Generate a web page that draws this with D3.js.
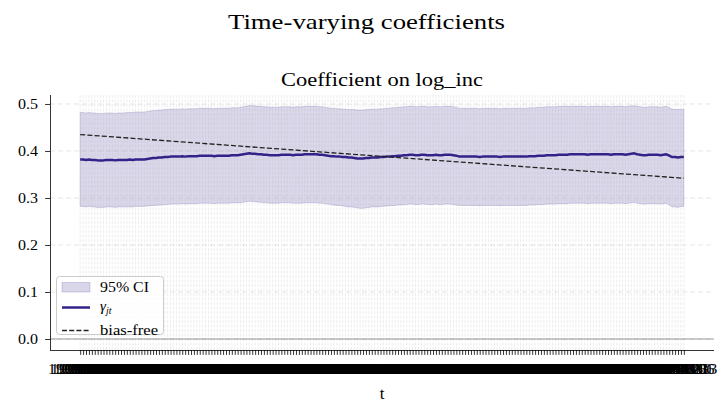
<!DOCTYPE html>
<html><head><meta charset="utf-8">
<script src="https://cdn.jsdelivr.net/npm/d3@7"></script>
<style>body{margin:0;background:#fff}text{font-family:"Liberation Serif","DejaVu Serif",serif}</style>
</head><body><svg id="c" width="728" height="414"></svg>
<script>
// ---- data ----
const nPeriods = 208;
const startDate = new Date(1999, 0, 25);
const categories = [];
for (let i = 0; i < nPeriods; i++) categories.push(d3.timeFormat("%Y%m%d")(d3.timeDay.offset(startDate, 7 * i)));

const gamma = [
0.382,0.382,0.381,0.382,0.381,0.381,0.380,0.380,0.380,0.381,
0.381,0.381,0.380,0.381,0.381,0.381,0.381,0.382,0.381,0.382,
0.382,0.382,0.382,0.383,0.384,0.385,0.385,0.386,0.386,0.387,
0.387,0.388,0.388,0.388,0.388,0.389,0.388,0.389,0.389,0.389,
0.389,0.390,0.390,0.390,0.390,0.390,0.389,0.390,0.390,0.390,
0.390,0.390,0.391,0.391,0.391,0.392,0.393,0.394,0.395,0.394,
0.394,0.393,0.393,0.392,0.392,0.391,0.391,0.391,0.391,0.392,
0.392,0.392,0.392,0.391,0.392,0.392,0.392,0.393,0.393,0.393,
0.393,0.393,0.392,0.392,0.391,0.390,0.389,0.389,0.388,0.388,
0.387,0.387,0.386,0.386,0.385,0.384,0.384,0.384,0.385,0.385,
0.386,0.386,0.386,0.387,0.387,0.388,0.388,0.389,0.389,0.390,
0.390,0.391,0.391,0.392,0.392,0.391,0.391,0.392,0.392,0.391,
0.391,0.391,0.392,0.391,0.391,0.392,0.392,0.392,0.391,0.390,
0.388,0.388,0.388,0.388,0.388,0.388,0.388,0.387,0.388,0.388,
0.388,0.388,0.388,0.388,0.387,0.388,0.388,0.388,0.388,0.388,
0.388,0.388,0.388,0.388,0.389,0.389,0.389,0.390,0.390,0.390,
0.391,0.391,0.391,0.391,0.392,0.392,0.392,0.392,0.393,0.393,
0.393,0.393,0.393,0.393,0.392,0.393,0.393,0.393,0.393,0.393,
0.393,0.393,0.392,0.393,0.393,0.393,0.393,0.392,0.393,0.394,
0.395,0.393,0.392,0.391,0.391,0.392,0.392,0.392,0.392,0.391,
0.392,0.393,0.390,0.387,0.387,0.386,0.387,0.387];

const ciUpper = [
0.482,0.482,0.481,0.482,0.481,0.481,0.480,0.480,0.480,0.481,
0.481,0.481,0.480,0.481,0.481,0.481,0.482,0.482,0.482,0.483,
0.483,0.483,0.483,0.484,0.485,0.486,0.486,0.487,0.487,0.488,
0.488,0.489,0.489,0.489,0.489,0.490,0.489,0.490,0.490,0.490,
0.490,0.491,0.491,0.491,0.491,0.491,0.490,0.491,0.491,0.491,
0.491,0.491,0.492,0.492,0.492,0.493,0.494,0.495,0.497,0.496,
0.496,0.495,0.495,0.494,0.494,0.493,0.493,0.493,0.493,0.494,
0.494,0.494,0.494,0.493,0.494,0.494,0.494,0.495,0.495,0.495,
0.495,0.495,0.494,0.494,0.493,0.492,0.491,0.491,0.490,0.490,
0.489,0.489,0.488,0.488,0.488,0.487,0.487,0.487,0.488,0.488,
0.489,0.489,0.489,0.490,0.490,0.491,0.491,0.492,0.492,0.493,
0.493,0.494,0.494,0.495,0.495,0.494,0.494,0.495,0.495,0.494,
0.494,0.494,0.495,0.494,0.494,0.495,0.495,0.495,0.494,0.493,
0.491,0.491,0.491,0.491,0.491,0.491,0.491,0.490,0.491,0.491,
0.491,0.491,0.491,0.491,0.490,0.491,0.491,0.491,0.491,0.491,
0.491,0.491,0.491,0.491,0.492,0.492,0.492,0.493,0.493,0.493,
0.494,0.494,0.494,0.494,0.495,0.495,0.495,0.495,0.495,0.495,
0.495,0.495,0.495,0.495,0.494,0.495,0.495,0.495,0.495,0.495,
0.495,0.495,0.494,0.495,0.495,0.495,0.495,0.494,0.495,0.496,
0.496,0.495,0.494,0.493,0.493,0.494,0.494,0.494,0.494,0.493,
0.494,0.495,0.492,0.489,0.489,0.488,0.489,0.489];

const ciLower = [
0.282,0.282,0.281,0.282,0.281,0.281,0.280,0.280,0.280,0.281,
0.281,0.281,0.280,0.281,0.281,0.281,0.281,0.281,0.281,0.282,
0.282,0.282,0.282,0.283,0.283,0.284,0.284,0.285,0.285,0.286,
0.286,0.287,0.287,0.287,0.287,0.288,0.287,0.288,0.288,0.288,
0.288,0.289,0.289,0.289,0.289,0.289,0.288,0.289,0.289,0.289,
0.289,0.289,0.290,0.290,0.290,0.290,0.291,0.292,0.293,0.292,
0.292,0.291,0.291,0.290,0.290,0.289,0.289,0.289,0.289,0.290,
0.290,0.290,0.290,0.289,0.289,0.289,0.289,0.290,0.290,0.290,
0.290,0.290,0.289,0.289,0.288,0.287,0.286,0.285,0.284,0.284,
0.283,0.282,0.281,0.281,0.280,0.279,0.278,0.278,0.279,0.280,
0.281,0.281,0.281,0.282,0.282,0.283,0.283,0.284,0.284,0.285,
0.285,0.286,0.286,0.287,0.287,0.286,0.286,0.287,0.287,0.286,
0.286,0.286,0.287,0.286,0.286,0.287,0.287,0.287,0.286,0.285,
0.284,0.284,0.284,0.284,0.284,0.284,0.284,0.283,0.284,0.284,
0.284,0.284,0.284,0.284,0.283,0.284,0.284,0.284,0.284,0.284,
0.284,0.284,0.284,0.284,0.285,0.285,0.285,0.286,0.286,0.286,
0.287,0.287,0.287,0.287,0.288,0.288,0.288,0.288,0.289,0.289,
0.289,0.289,0.289,0.289,0.288,0.289,0.289,0.289,0.289,0.289,
0.289,0.289,0.288,0.289,0.289,0.289,0.289,0.288,0.289,0.290,
0.291,0.289,0.288,0.287,0.287,0.288,0.288,0.288,0.288,0.287,
0.288,0.289,0.285,0.281,0.281,0.280,0.282,0.282];

// bias-free reference line: value at first and last period
const biasFreeT = [0, nPeriods - 1];
const biasFree = [0.435, 0.342];

const yTicks = [0.0, 0.1, 0.2, 0.3, 0.4, 0.5];

// ---- layout ----
const svg = d3.select("#c");
const L = 50, R = 714, T = 95, B = 350;
const ink = "#332288";
const fit = (sel, w) => sel.attr("textLength", w).attr("lengthAdjust", "spacingAndGlyphs");

const x = d3.scalePoint().domain(categories).range([L, R]).padding(0.05 * (nPeriods - 1));
const y = d3.scaleLinear().domain([-0.0234, 0.5191]).range([B, T]);

// titles
fit(svg.append("text").attr("x", 366.5).attr("y", 28.5).attr("text-anchor", "middle")
  .attr("font-size", 22).text("Time-varying coefficients"), 277);
fit(svg.append("text").attr("x", 382).attr("y", 86).attr("text-anchor", "middle")
  .attr("font-size", 19).text("Coefficient on log_inc"), 202);

// CI band
const area = d3.area().x((d, i) => x(categories[i])).y0((d, i) => y(ciLower[i])).y1((d, i) => y(ciUpper[i]));
svg.append("path").datum(gamma).attr("d", area)
  .attr("fill", ink).attr("fill-opacity", 0.18)
  .attr("stroke", ink).attr("stroke-opacity", 0.18).attr("stroke-width", 1);

// grid
const gGrid = svg.append("g");
gGrid.selectAll(".vg").data(categories).join("line")
  .attr("x1", d => x(d)).attr("x2", d => x(d)).attr("y1", T).attr("y2", B)
  .attr("stroke", "#b0b0b0").attr("stroke-opacity", 0.3).attr("stroke-width", 0.8)
  .attr("stroke-dasharray", "3,1.5");
gGrid.selectAll(".hg").data(yTicks).join("line")
  .attr("x1", L).attr("x2", R).attr("y1", d => y(d)).attr("y2", d => y(d))
  .attr("stroke", "#b0b0b0").attr("stroke-opacity", 0.4).attr("stroke-width", 0.8)
  .attr("stroke-dasharray", "5,3");

// zero line
svg.append("line").attr("x1", L).attr("x2", R).attr("y1", y(0)).attr("y2", y(0))
  .attr("stroke", "#808080").attr("stroke-width", 0.8);

// gamma line
const line = d3.line().x((d, i) => x(categories[i])).y(d => y(d));
svg.append("path").datum(gamma).attr("d", line)
  .attr("fill", "none").attr("stroke", ink).attr("stroke-width", 2.5).attr("stroke-linejoin", "round");

// bias-free
svg.append("path").datum(biasFree)
  .attr("d", d3.line().x((d, i) => x(categories[biasFreeT[i]])).y(d => y(d)))
  .attr("fill", "none").attr("stroke", "#222").attr("stroke-width", 1.3).attr("stroke-dasharray", "5,2.2");

// axes
const xAxis = d3.axisBottom(x).tickSize(4.9).tickPadding(7);
const gx = svg.append("g").attr("transform", `translate(0,${B})`).call(xAxis);
gx.attr("font-family", null);
gx.select(".domain").attr("d", `M${L},0.5H${R}`).attr("stroke", "#000").attr("stroke-width", 0.8);
gx.selectAll(".tick line").attr("stroke", "#000").attr("stroke-width", 0.8);
fit(gx.selectAll(".tick text").attr("font-size", 14.5).attr("fill", "#000")
  .attr("y", 23.5).attr("dy", null), 66);

const yAxis = d3.axisLeft(y).tickValues(yTicks).tickFormat(d3.format(".1f")).tickSize(4.9).tickPadding(7);
const gy = svg.append("g").attr("transform", `translate(${L},0)`).call(yAxis);
gy.attr("font-family", null);
gy.select(".domain").attr("d", `M0.5,${T}V${B}`).attr("stroke", "#000").attr("stroke-width", 0.8);
gy.selectAll(".tick line").attr("stroke", "#000").attr("stroke-width", 0.8);
fit(gy.selectAll(".tick text").attr("font-size", 15).attr("fill", "#000"), 20);

svg.append("text").attr("x", 382).attr("y", 398.5).attr("text-anchor", "middle")
  .attr("font-size", 17).text("t");

// legend
const lg = svg.append("g");
lg.append("rect").attr("x", 56.5).attr("y", 276.5).attr("width", 107).attr("height", 58).attr("rx", 3)
  .attr("fill", "#fff").attr("fill-opacity", 0.8).attr("stroke", "#cccccc").attr("stroke-width", 1);
lg.append("rect").attr("x", 62).attr("y", 282.5).attr("width", 28).attr("height", 9.5)
  .attr("fill", ink).attr("fill-opacity", 0.18).attr("stroke", ink).attr("stroke-opacity", 0.18);
fit(lg.append("text").attr("x", 100).attr("y", 291.5).attr("font-size", 14.5).text("95% CI"), 49);
lg.append("line").attr("x1", 62).attr("x2", 90).attr("y1", 307.5).attr("y2", 307.5)
  .attr("stroke", ink).attr("stroke-width", 2.5);
const gt = lg.append("text").attr("x", 100).attr("y", 311).attr("font-size", 15);
gt.append("tspan").attr("font-style", "italic").text("γ");
gt.append("tspan").attr("font-style", "italic").attr("font-size", 10).attr("dy", 3).text("jt");
lg.append("line").attr("x1", 62).attr("x2", 90).attr("y1", 330.5).attr("y2", 330.5)
  .attr("stroke", "#222").attr("stroke-width", 1.3).attr("stroke-dasharray", "5,2.2");
fit(lg.append("text").attr("x", 100).attr("y", 335).attr("font-size", 14.5).text("bias-free"), 58);
</script></body></html>
